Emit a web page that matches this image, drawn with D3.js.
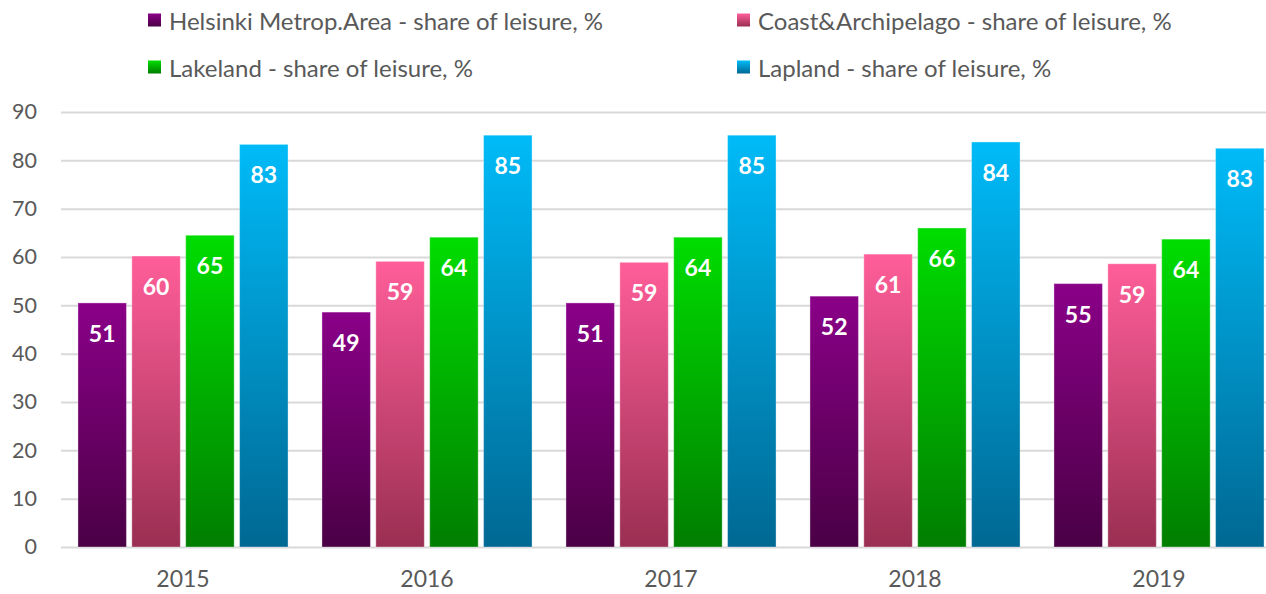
<!DOCTYPE html>
<html>
<head>
<meta charset="utf-8">
<script src="https://cdn.jsdelivr.net/npm/d3@7/dist/d3.min.js"></script>
<style>
  html, body { margin: 0; padding: 0; background: #fff; overflow: hidden; }
  svg { display: block; font-family: Lato, "Open Sans", sans-serif; }
</style>
</head>
<body>
<svg id="chart" width="1266" height="594"></svg>
<script>
(function () {
  'use strict';

  // ── Data ────────────────────────────────────────────────────────────────
  const years = ['2015', '2016', '2017', '2018', '2019'];
  const seriesNames = [
    'Helsinki Metrop.Area - share of leisure, %',
    'Coast&Archipelago - share of leisure, %',
    'Lakeland - share of leisure, %',
    'Lapland - share of leisure, %'
  ];
  const helsinki = [50.5, 48.6, 50.5, 51.9, 54.5];
  const coast = [60.2, 59.1, 58.9, 60.6, 58.6];
  const lakeland = [64.5, 64.1, 64.1, 66.0, 63.7];
  const lapland = [83.3, 85.2, 85.2, 83.8, 82.5];
  const yTicks = [0, 10, 20, 30, 40, 50, 60, 70, 80, 90];

  const seriesValues = [helsinki, coast, lakeland, lapland];
  // top / bottom colour of each bar gradient
  const gradColors = [
    ['#8a0088', '#4a0045'],
    ['#ff5e99', '#9a2f52'],
    ['#00dd00', '#007e00'],
    ['#00bbf8', '#006893']
  ];

  const svg = d3.select('#chart');
  const margin = { top: 112, left: 61, bottom: 47 };
  const plotW = 244 * years.length;
  const plotH = 594 - margin.top - margin.bottom;

  const x = d3.scaleBand().domain(years).range([margin.left, margin.left + plotW]).paddingInner(0.139).paddingOuter(0.0695);
  const xs = d3.scaleBand().domain(d3.range(seriesNames.length)).range([0, x.bandwidth()]).paddingInner(0.1);
  const y = d3.scaleLinear().domain([0, 90]).range([margin.top + plotH, margin.top]);

  // gradients
  const defs = svg.append('defs');
  gradColors.forEach((c, i) => {
    const g = defs.append('linearGradient')
      .attr('id', 'grad' + i)
      .attr('x1', 0).attr('y1', 0).attr('x2', 0).attr('y2', 1);
    g.append('stop').attr('offset', '0%').attr('stop-color', c[0]);
    g.append('stop').attr('offset', '100%').attr('stop-color', c[1]);
  });

  // ── Grid + y axis ───────────────────────────────────────────────────────
  svg.append('g')
    .attr('transform', `translate(${margin.left},0)`)
    .call(d3.axisLeft(y).tickValues(yTicks).tickSize(-1266).tickPadding(24))
    .call(ax => ax.select('.domain').remove())
    .call(ax => ax.selectAll('.tick line').attr('stroke', '#d9d9d9').attr('stroke-width', 2))
    .call(ax => ax.selectAll('.tick text')
      .attr('fill', '#595959')
      .attr('font-size', 21.5)
      .attr('font-family', 'Lato, sans-serif'));

  // ── Bars ────────────────────────────────────────────────────────────────
  const groups = svg.append('g').selectAll('g')
    .data(years)
    .join('g')
    .attr('transform', d => `translate(${x(d)},0)`);

  groups.each(function (year, yi) {
    const g = d3.select(this);
    seriesValues.forEach((vals, si) => {
      const v = vals[yi];
      g.append('rect')
        .attr('x', xs(si))
        .attr('y', y(v))
        .attr('width', xs.bandwidth())
        .attr('height', y(0) - y(v))
        .attr('fill', `url(#grad${si})`)
        .attr('stroke', 'rgba(255,255,255,0.35)')
        .attr('stroke-width', 1);
      g.append('text')
        .attr('x', xs(si) + xs.bandwidth() / 2)
        .attr('y', y(v) + 30)
        .attr('text-anchor', 'middle')
        .attr('dominant-baseline', 'central')
        .attr('fill', '#fff')
        .attr('font-weight', 700)
        .attr('font-size', 23)
        .text(Math.round(v));
    });
  });

  // ── X axis labels ───────────────────────────────────────────────────────
  svg.append('g')
    .attr('transform', `translate(0,${y(0)})`)
    .call(d3.axisBottom(x).tickSize(0).tickPadding(24))
    .call(ax => ax.select('.domain').remove())
    .call(ax => ax.selectAll('.tick text')
      .attr('fill', '#595959')
      .attr('font-size', 23)
      .attr('font-family', 'Lato, sans-serif'));

  // ── Legend ──────────────────────────────────────────────────────────────
  const legendPos = [[148, 20], [737, 20], [148, 67], [737, 67]];
  const legend = svg.append('g');
  seriesNames.forEach((name, i) => {
    const [lx, ly] = legendPos[i];
    const item = legend.append('g').attr('transform', `translate(${lx},${ly})`);
    item.append('rect')
      .attr('x', 0).attr('y', -6.5)
      .attr('width', 13).attr('height', 13)
      .attr('fill', `url(#grad${i})`);
    item.append('text')
      .attr('x', 21)
      .attr('y', 0)
      .attr('dominant-baseline', 'central')
      .attr('fill', '#595959')
      .attr('font-size', 24)
      .text(name);
  });
})();
</script>
</body>
</html>
